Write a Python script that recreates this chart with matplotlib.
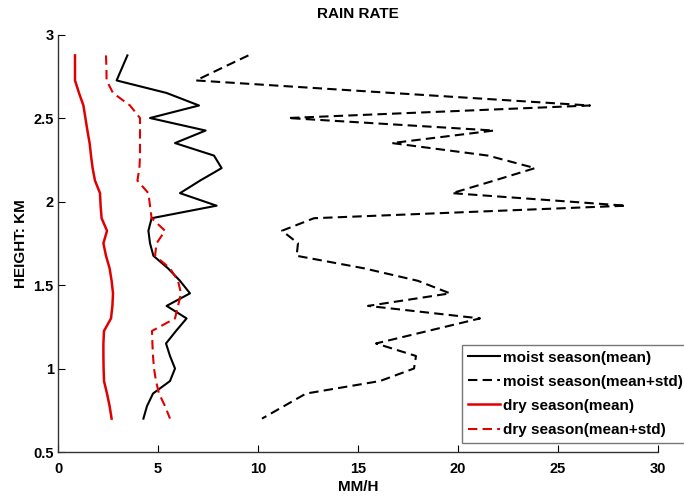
import matplotlib
matplotlib.use("Agg")
import matplotlib.pyplot as plt

heights = [2.875, 2.8, 2.725, 2.65, 2.575, 2.5, 2.425, 2.35, 2.275, 2.2,
           2.125, 2.05, 1.975, 1.9, 1.825, 1.75, 1.675, 1.6, 1.525, 1.45,
           1.375, 1.3, 1.225, 1.15, 1.075, 1.0, 0.925, 0.85, 0.775, 0.7]

moist_mean = [3.47, 3.2, 2.93, 5.43, 7.05, 4.6, 7.38, 5.85, 7.8, 8.18,
              7.1, 6.1, 7.93, 4.68, 4.52, 4.6, 4.77, 5.5, 6.1, 6.6,
              5.43, 6.43, 5.9, 5.4, 5.6, 5.85, 5.6, 4.75, 4.45, 4.27]

moist_std = [9.52, 8.2, 6.9, 16.7, 26.6, 11.5, 21.8, 16.7, 21.5, 23.85,
             21.8, 19.7, 28.4, 12.8, 11.2, 12.0, 11.93, 15.3, 18.0, 19.6,
             15.5, 21.1, 18.5, 15.9, 17.9, 17.8, 16.1, 12.4, 11.3, 10.2]

dry_mean = [0.85, 0.85, 0.85, 1.05, 1.27, 1.37, 1.47, 1.58, 1.65, 1.73,
            1.85, 2.1, 2.13, 2.18, 2.45, 2.27, 2.4, 2.58, 2.68, 2.75,
            2.72, 2.65, 2.3, 2.27, 2.27, 2.28, 2.3, 2.45, 2.58, 2.68]

dry_std = [2.4, 2.42, 2.43, 2.75, 3.6, 4.1, 4.1, 4.1, 4.1, 4.07,
           3.97, 4.52, 4.6, 4.68, 5.35, 4.93, 4.85, 5.6, 6.0, 6.15,
           6.0, 5.85, 4.7, 4.72, 4.75, 4.8, 4.9, 5.05, 5.35, 5.6]

labels = ["moist season(mean)", "moist season(mean+std)",
          "dry season(mean)", "dry season(mean+std)"]

plt.rcParams['font.family'] = ['Liberation Sans', 'DejaVu Sans']

fig = plt.figure(figsize=(6.84, 4.96), dpi=100)
ax = fig.add_axes([0.0848, 0.0887, 0.8772, 0.8417])

dash = (0, (4.5, 2.5))
ax.plot(moist_mean, heights, color='black', lw=1.5, label=labels[0])
ax.plot(moist_std, heights, color='black', lw=1.5, linestyle=dash, label=labels[1])
ax.plot(dry_mean, heights, color='#e00000', lw=1.8, label=labels[2])
ax.plot(dry_std, heights, color='#e00000', lw=1.5, linestyle=dash, label=labels[3])

ax.set_xlim(0, 30)
ax.set_ylim(0.5, 3)
ax.set_xticks([0, 5, 10, 15, 20, 25, 30])
ax.set_yticks([0.5, 1, 1.5, 2, 2.5, 3])
ax.set_yticklabels(['0.5', '1', '1.5', '2', '2.5', '3'])
ax.spines['top'].set_visible(False)
ax.spines['right'].set_visible(False)
for s in ('left', 'bottom'):
    ax.spines[s].set_color('#333333')
    ax.spines[s].set_linewidth(1.0)
ax.tick_params(direction='in', length=5, width=0.8, labelsize=10.5)
ax.tick_params(axis='x', pad=7)
ax.tick_params(axis='y', pad=3)
for t in ax.get_xticklabels() + ax.get_yticklabels():
    t.set_fontweight('bold')

ax.set_title('RAIN RATE', fontsize=11, fontweight='bold', pad=12)
ax.set_xlabel('MM/H', fontsize=11, fontweight='bold', labelpad=3)
ax.set_ylabel('HEIGHT: KM', fontsize=11, fontweight='bold', labelpad=4)

leg = ax.legend(loc='lower right', bbox_to_anchor=(689 / 684, 53 / 496),
                bbox_transform=fig.transFigure, frameon=True, fancybox=False,
                borderaxespad=0.0,
                edgecolor='#555555', handlelength=2.1, handletextpad=0.2,
                labelspacing=0.66, borderpad=0.4,
                prop={'weight': 'bold', 'size': 11})
leg.get_frame().set_linewidth(1.0)

fig.savefig('out.png', dpi=100)
